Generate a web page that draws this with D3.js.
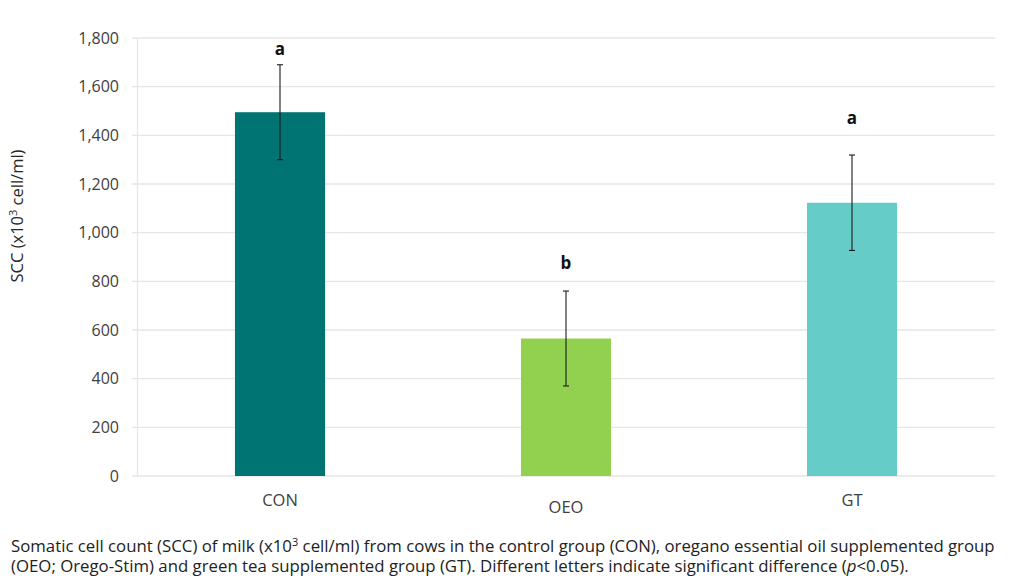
<!DOCTYPE html>
<html><head><meta charset="utf-8">
<script src="https://cdn.jsdelivr.net/npm/d3@7"></script>
<style>body{margin:0;background:#fff;} svg{display:block;font-family:"Open Sans","Noto Sans",sans-serif;}</style>
</head><body>
<svg id="c" width="1024" height="586"></svg>
<script>
const categories = ["CON", "OEO", "GT"];
const means = [1495, 565, 1123];
const errors = [195, 195, 196];
const letters = ["a", "b", "a"];
const letterLevels = [1730, 851, 1447];
const colors = ["#007472", "#92d050", "#65ccc8"];
const yTicks = [0, 200, 400, 600, 800, 1000, 1200, 1400, 1600, 1800];
const labelOffsets = [0, 7, 0];

const svg = d3.select("#c");
const m = {left: 137, right: 995, top: 38, bottom: 476};
const x = d3.scaleBand().domain(categories).range([m.left, m.right]).paddingInner(0.685).paddingOuter(0.3425);
const y = d3.scaleLinear().domain([0, 1800]).range([m.bottom, m.top]);

// gridlines
svg.append("g").selectAll("line").data(yTicks).join("line")
  .attr("x1", 132).attr("x2", m.right)
  .attr("y1", d => y(d)).attr("y2", d => y(d))
  .attr("stroke", "#e6e6e6").attr("stroke-width", 1.3);
svg.append("line").attr("x1", m.left + 0.5).attr("x2", m.left + 0.5)
  .attr("y1", m.top).attr("y2", m.bottom).attr("stroke", "#e6e6e6").attr("stroke-width", 1.3);

// y axis labels
const yAxis = d3.axisLeft(y).tickValues(yTicks).tickFormat(d3.format(",")).tickSize(0).tickPadding(18);
const ga = svg.append("g").attr("transform", `translate(${m.left},0)`).call(yAxis);
ga.select(".domain").remove();
ga.selectAll("text").attr("font-size", 16).attr("fill", "#404040").attr("font-family", "'Open Sans','Noto Sans',sans-serif");

// bars
svg.append("g").selectAll("rect").data(categories).join("rect")
  .attr("x", d => x(d)).attr("width", x.bandwidth())
  .attr("y", (d, i) => y(means[i])).attr("height", (d, i) => y(0) - y(means[i]))
  .attr("fill", (d, i) => colors[i]);

// error bars
const eb = svg.append("g").attr("stroke", "#1a1a1a").attr("stroke-width", 1.1);
categories.forEach((c, i) => {
  const cx = x(c) + x.bandwidth() / 2;
  eb.append("line").attr("x1", cx).attr("x2", cx).attr("y1", y(means[i] + errors[i])).attr("y2", y(means[i] - errors[i]));
  eb.append("line").attr("x1", cx - 3).attr("x2", cx + 3).attr("y1", y(means[i] + errors[i])).attr("y2", y(means[i] + errors[i]));
  eb.append("line").attr("x1", cx - 3).attr("x2", cx + 3).attr("y1", y(means[i] - errors[i])).attr("y2", y(means[i] - errors[i]));
});

// letters
svg.append("g").selectAll("text").data(categories).join("text")
  .attr("x", d => x(d) + x.bandwidth() / 2)
  .attr("y", (d, i) => y(letterLevels[i]))
  .attr("text-anchor", "middle").attr("font-size", 17).attr("font-weight", "bold").attr("fill", "#111")
  .text((d, i) => letters[i]);

// x labels
svg.append("g").selectAll("text").data(categories).join("text")
  .attr("x", d => x(d) + x.bandwidth() / 2)
  .attr("y", (d, i) => 506 + labelOffsets[i])
  .attr("text-anchor", "middle").attr("font-size", 16.5).attr("fill", "#404040")
  .text(d => d);

// y title
const yt = svg.append("text").attr("transform", "translate(23,216) rotate(-90)")
  .attr("text-anchor", "middle").attr("font-size", 16.5).attr("fill", "#262626");
yt.append("tspan").text("SCC (x10");
yt.append("tspan").attr("font-size", 11).attr("dy", -6).text("3");
yt.append("tspan").attr("dy", 6).text(" cell/ml)");

// caption
const cap1 = svg.append("text").attr("x", 11).attr("y", 552).attr("font-size", 16.8).attr("fill", "#222");
cap1.append("tspan").text("Somatic cell count (SCC) of milk (x10");
cap1.append("tspan").attr("font-size", 11).attr("dy", -6).text("3");
cap1.append("tspan").attr("dy", 6).text(" cell/ml) from cows in the control group (CON), oregano essential oil supplemented group");
const cap2 = svg.append("text").attr("x", 11).attr("y", 572).attr("font-size", 16.8).attr("fill", "#222");
cap2.append("tspan").text("(OEO; Orego-Stim) and green tea supplemented group (GT). Different letters indicate significant difference (");
cap2.append("tspan").attr("font-style", "italic").text("p");
cap2.append("tspan").text("<0.05).");
</script>
</body></html>
